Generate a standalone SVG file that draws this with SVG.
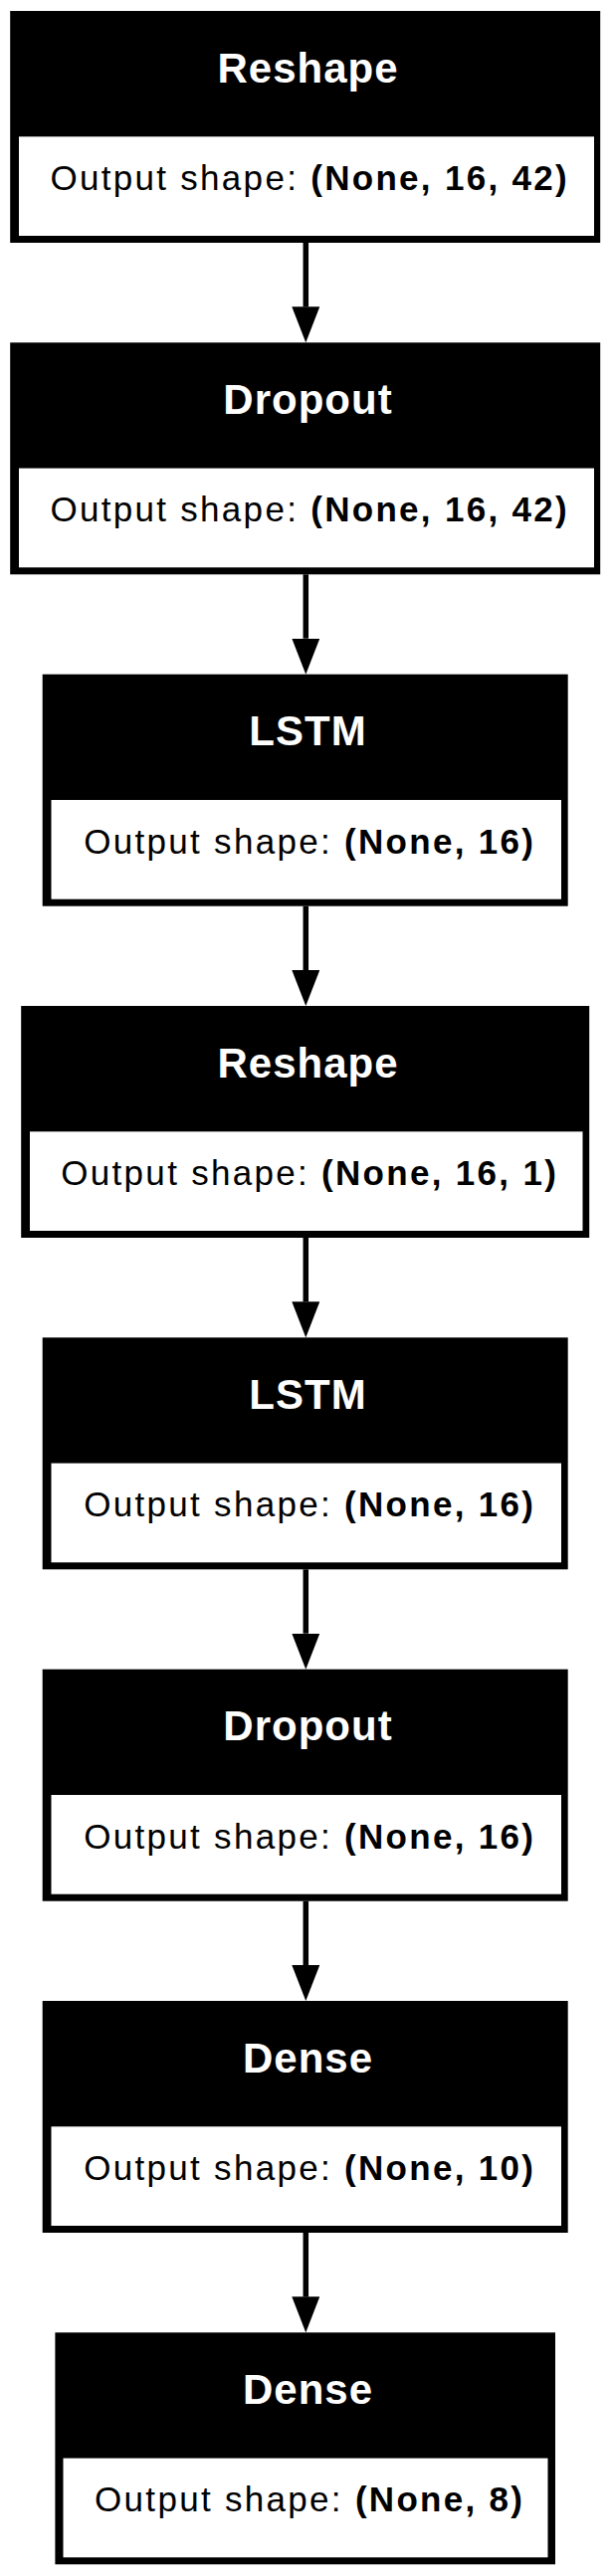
<svg xmlns="http://www.w3.org/2000/svg" width="614" height="2589" viewBox="0 0 614 2589">
<style>
.outer{fill:#000}
.inner{fill:#fff}
.title{font-family:"Liberation Sans",Arial,sans-serif;font-weight:bold;font-size:42px;fill:#fff;text-anchor:middle;letter-spacing:1px}
.body{font-family:"Liberation Sans",Arial,sans-serif;font-size:35px;fill:#000;text-anchor:middle;letter-spacing:2.3px}
.b{font-weight:bold}
.edge{stroke:#000;stroke-width:5.5;fill:none}
</style>
<defs>
<marker id="arr" markerUnits="userSpaceOnUse" viewBox="0 0 36 28" markerWidth="36" markerHeight="28" refX="0" refY="14" orient="auto">
<path d="M0,0 L36,14 L0,28 Z" fill="#000"/>
</marker>
</defs>
<rect width="614" height="2589" fill="#fff"/>
<g id="edges">
<line class="edge" x1="307.3" y1="244" x2="307.3" y2="308.3" marker-end="url(#arr)"/>
<line class="edge" x1="307.3" y1="577.3" x2="307.3" y2="641.7" marker-end="url(#arr)"/>
<line class="edge" x1="307.3" y1="910.7" x2="307.3" y2="975" marker-end="url(#arr)"/>
<line class="edge" x1="307.3" y1="1244" x2="307.3" y2="1308.3" marker-end="url(#arr)"/>
<line class="edge" x1="307.3" y1="1577.3" x2="307.3" y2="1641.7" marker-end="url(#arr)"/>
<line class="edge" x1="307.3" y1="1910.7" x2="307.3" y2="1975" marker-end="url(#arr)"/>
<line class="edge" x1="307.3" y1="2244" x2="307.3" y2="2308.3" marker-end="url(#arr)"/>
</g>
<g id="node1">
<rect class="outer" x="10.2" y="11" width="593" height="233"/>
<rect class="inner" x="19" y="137.3" width="578" height="99.7"/>
<text class="title" x="309.5" y="82.7">Reshape</text>
<text class="body" x="311.2" y="191">Output shape: <tspan class="b">(None, 16, 42)</tspan></text>
</g>
<g id="node2">
<rect class="outer" x="10.2" y="344.3" width="593" height="233"/>
<rect class="inner" x="19" y="470.6" width="578" height="99.7"/>
<text class="title" x="309.5" y="416">Dropout</text>
<text class="body" x="311.2" y="524.3">Output shape: <tspan class="b">(None, 16, 42)</tspan></text>
</g>
<g id="node3">
<rect class="outer" x="42.7" y="677.7" width="528" height="233"/>
<rect class="inner" x="51.5" y="804" width="512.5" height="99.7"/>
<text class="title" x="309.5" y="749.4">LSTM</text>
<text class="body" x="311.2" y="857.7">Output shape: <tspan class="b">(None, 16)</tspan></text>
</g>
<g id="node4">
<rect class="outer" x="21.2" y="1011" width="571" height="233"/>
<rect class="inner" x="30" y="1137.3" width="555.5" height="99.7"/>
<text class="title" x="309.5" y="1082.7">Reshape</text>
<text class="body" x="311.2" y="1191">Output shape: <tspan class="b">(None, 16, 1)</tspan></text>
</g>
<g id="node5">
<rect class="outer" x="42.7" y="1344.3" width="528" height="233"/>
<rect class="inner" x="51.5" y="1470.6" width="512.5" height="99.7"/>
<text class="title" x="309.5" y="1416">LSTM</text>
<text class="body" x="311.2" y="1524.3">Output shape: <tspan class="b">(None, 16)</tspan></text>
</g>
<g id="node6">
<rect class="outer" x="42.7" y="1677.7" width="528" height="233"/>
<rect class="inner" x="51.5" y="1804" width="512.5" height="99.7"/>
<text class="title" x="309.5" y="1749.4">Dropout</text>
<text class="body" x="311.2" y="1857.7">Output shape: <tspan class="b">(None, 16)</tspan></text>
</g>
<g id="node7">
<rect class="outer" x="42.7" y="2011" width="528" height="233"/>
<rect class="inner" x="51.5" y="2137.3" width="512.5" height="99.7"/>
<text class="title" x="309.5" y="2082.7">Dense</text>
<text class="body" x="311.2" y="2191">Output shape: <tspan class="b">(None, 10)</tspan></text>
</g>
<g id="node8">
<rect class="outer" x="55.4" y="2344.3" width="502.6" height="233"/>
<rect class="inner" x="63.5" y="2470.6" width="487" height="99.7"/>
<text class="title" x="309.5" y="2416">Dense</text>
<text class="body" x="311.2" y="2524.3">Output shape: <tspan class="b">(None, 8)</tspan></text>
</g>
</svg>
